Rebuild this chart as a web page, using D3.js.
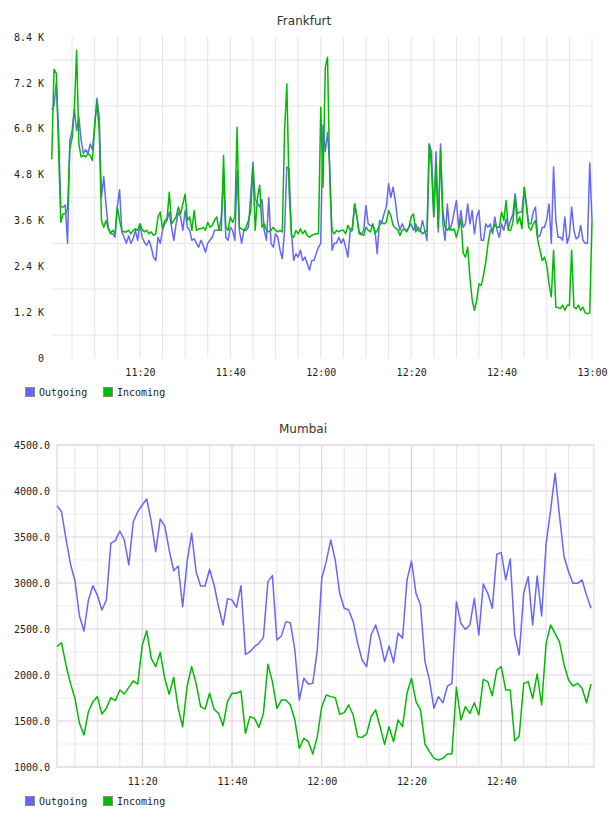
<!DOCTYPE html>
<html>
<head>
<meta charset="utf-8">
<script src="https://cdn.jsdelivr.net/npm/d3@7"></script>
<style>
body { margin: 0; background: #fff; }
svg text { font-family: "DejaVu Sans Mono", monospace; font-size: 10px; fill: #222; }
svg text.title { font-family: "DejaVu Sans", sans-serif; font-size: 12px; fill: #333; }
</style>
</head>
<body>
<svg id="chart" width="608" height="816"></svg>
<script>
// Frankfurt, one sample every 30 s from 11:00:30 (values in thousands)
const frankfurtOutgoingK = [
  6.5, 6.6, 7.2, 5.95, 3.95, 3.95, 4.0, 3.0, 5.7, 5.95, 6.5, 5.95, 6.3, 5.7, 5.35, 5.45, 5.35, 5.6, 5.45, 6.05,
  6.8, 6.3, 4.2, 4.75, 4.0, 3.42, 3.25, 3.25, 3.16, 3.95, 4.4, 3.3, 3.16, 3.0, 3.2, 3.0, 3.12, 3.34, 3.08, 3.51,
  3.16, 3.03, 2.95, 3.08, 2.9, 2.64, 2.55, 3.16, 3.0, 3.34, 3.51, 3.6, 3.82, 3.42, 3.08, 3.51, 3.82, 3.69, 3.34, 3.86,
  3.42, 3.34, 3.08, 3.12, 3.0, 2.9, 3.08, 2.95, 2.77, 3.0, 3.08, 3.16, 3.34, 3.34, 3.34, 3.69, 4.73, 3.16, 3.08, 3.42,
  3.34, 3.08, 4.9, 3.34, 3.0, 3.34, 3.34, 3.42, 4.25, 5.12, 4.15, 4.06, 3.95, 4.15, 3.34, 3.08, 4.2, 3.0, 2.9, 3.25,
  3.16, 2.82, 2.6, 3.34, 5.0, 4.95, 3.34, 2.55, 2.73, 2.64, 2.82, 2.55, 2.64, 2.47, 2.3, 2.55, 2.55, 2.73, 2.9, 3.0,
  6.1, 5.4, 5.9, 5.0, 2.82, 3.0, 3.0, 3.16, 3.0, 3.12, 2.9, 2.64, 3.3, 3.34, 4.03, 3.69, 3.3, 3.25, 3.34, 3.99,
  3.51, 3.47, 3.47, 3.34, 2.73, 3.6, 3.55, 3.77, 3.95, 4.56, 4.2, 4.47, 4.12, 3.6, 3.34, 3.51, 3.38, 3.34, 3.42, 3.51,
  3.34, 3.51, 3.34, 3.3, 3.6, 3.34, 3.08, 5.6, 5.4, 3.7, 5.4, 3.3, 5.6, 3.5, 3.08, 4.03, 3.34, 3.51, 3.82, 4.12,
  3.42, 3.86, 3.42, 3.51, 4.03, 3.51, 3.86, 3.25, 3.69, 3.86, 3.08, 3.08, 3.51, 3.42, 3.51, 3.25, 3.69, 3.34, 3.16, 3.51,
  3.34, 3.64, 3.38, 3.6, 3.77, 4.3, 3.77, 3.82, 3.82, 4.43, 4.03, 3.51, 3.51, 3.82, 3.95, 3.16, 3.2, 3.42, 3.42, 3.64,
  4.03, 3.0, 5.0, 3.6, 3.16, 3.16, 3.08, 3.69, 3.0, 3.2, 3.95, 3.34, 3.12, 3.16, 3.47, 3.08, 3.0, 3.0, 5.1, 3.6
];
const frankfurtIncomingK = [
  5.2, 7.55, 7.45, 5.5, 3.55, 3.77, 3.78, 3.9, 5.5, 5.75, 6.5, 8.05, 5.6, 5.26, 5.3, 5.26, 5.35, 5.3, 5.17, 6.13,
  6.7, 5.95, 3.6, 3.42, 3.6, 3.38, 3.27, 3.34, 3.25, 3.95, 3.6, 3.34, 3.3, 3.3, 3.34, 3.25, 3.34, 3.38, 3.34, 3.51,
  3.36, 3.3, 3.34, 3.25, 3.3, 3.21, 3.25, 3.69, 3.82, 3.38, 3.6, 3.64, 4.34, 3.51, 3.6, 3.69, 3.95, 3.77, 4.03, 4.29,
  3.6, 3.69, 3.34, 3.86, 3.34, 3.38, 3.38, 3.42, 3.34, 3.55, 3.42, 3.47, 3.6, 3.69, 3.34, 3.34, 5.3, 3.42, 3.34, 3.69,
  3.55, 3.69, 6.04, 3.42, 3.38, 3.34, 3.42, 3.6, 3.82, 5.0, 3.34, 4.2, 4.52, 3.42, 3.51, 3.34, 3.3, 3.34, 3.42, 3.34,
  3.3, 3.34, 3.3, 5.95, 7.17, 4.38, 3.21, 3.16, 3.34, 3.25, 3.38, 3.25, 3.34, 3.21, 3.16, 3.21, 3.23, 3.25, 3.25, 6.56,
  4.47, 7.6, 7.87, 4.65, 3.34, 3.25, 3.34, 3.3, 3.34, 3.34, 3.25, 3.47, 3.34, 3.42, 4.03, 3.69, 3.25, 3.23, 3.21, 3.42,
  3.34, 3.3, 3.51, 3.25, 3.34, 3.47, 3.55, 3.51, 3.55, 3.86, 3.73, 3.47, 3.4, 3.36, 3.21, 3.34, 3.38, 3.3, 3.42, 3.69,
  3.77, 3.3, 3.42, 3.34, 3.25, 3.3, 3.34, 5.6, 5.0, 3.7, 5.1, 3.4, 5.45, 3.86, 3.42, 3.34, 3.42, 3.34, 3.38, 3.16,
  3.38, 3.64, 2.75, 2.64, 2.9, 2.1, 1.51, 1.25, 1.51, 1.94, 1.9, 2.16, 2.51, 2.99, 3.34, 3.34, 3.49, 3.42, 3.42, 3.82,
  3.6, 4.12, 3.34, 3.34, 3.55, 4.2, 3.51, 3.69, 3.38, 4.47, 3.95, 3.42, 3.34, 3.51, 3.6, 3.08, 2.82, 2.55, 2.64, 2.42,
  1.94, 1.6, 2.82, 1.33, 1.32, 1.29, 1.38, 1.25, 1.38, 1.38, 2.82, 1.33, 1.29, 1.38, 1.25, 1.33, 1.18, 1.16, 1.18, 3.6
];
const frankfurtYTicks = [0, 1200, 2400, 3600, 4800, 6000, 7200, 8400];

// Mumbai, one sample per minute from 11:01
const mumbaiOutgoing = [
  3841, 3775, 3480, 3207, 3025, 2641, 2478, 2815, 2971, 2866, 2707, 2815, 3431, 3460, 3565, 3467, 3196, 3667, 3775, 3848,
  3913, 3667, 3341, 3696, 3620, 3359, 3134, 3185, 2743, 3232, 3540, 3123, 2967, 2967, 3149, 2978, 2743, 2543, 2830, 2815,
  2736, 2971, 2225, 2254, 2308, 2344, 2409, 3015, 3080, 2380, 2424, 2580, 2569, 2272, 1728, 1964, 1902, 1909, 2272, 3051,
  3232, 3467, 3250, 2888, 2725, 2707, 2580, 2344, 2163, 2091, 2435, 2543, 2380, 2145, 2315, 2134, 2453, 2399, 3033, 3239,
  2888, 2761, 2145, 1946, 1638, 1765, 1699, 1880, 1909, 2797, 2562, 2496, 2543, 2833, 2435, 2989, 2888, 2725, 3312, 3330,
  3033, 3261, 2435, 2217, 2888, 3069, 2543, 3076, 2641, 3431, 3793, 4192, 3721, 3286, 3123, 2996, 2996, 3033, 2870, 2725
];
const mumbaiIncoming = [
  2308, 2351, 2109, 1909, 1746, 1475, 1348, 1601, 1710, 1765, 1576, 1638, 1754, 1721, 1837, 1794, 1866, 1935, 1902, 2326,
  2482, 2181, 2091, 2246, 1964, 1790, 1975, 1638, 1438, 1880, 2091, 1909, 1656, 1630, 1801, 1627, 1583, 1449, 1710, 1801,
  1801, 1826, 1366, 1547, 1529, 1431, 1583, 2116, 1928, 1638, 1728, 1728, 1674, 1511, 1203, 1312, 1275, 1141, 1330, 1656,
  1783, 1765, 1754, 1573, 1591, 1674, 1565, 1330, 1322, 1359, 1547, 1620, 1438, 1246, 1438, 1275, 1511, 1438, 1801, 1964,
  1710, 1620, 1250, 1167, 1094, 1076, 1094, 1141, 1141, 1866, 1511, 1656, 1583, 1699, 1565, 1953, 1928, 1775, 2054, 2091,
  1837, 1837, 1286, 1337, 1909, 1928, 1746, 2011, 1674, 2344, 2543, 2453, 2355, 2109, 1946, 1880, 1909, 1855, 1699, 1902
];
const mumbaiYTicks = [1000, 1500, 2000, 2500, 3000, 3500, 4000, 4500];

const seriesNames = ["Outgoing", "Incoming"];
const seriesColors = ["#6666ff", "#00bb00"];

const at = (h, m, s = 0) => new Date(2015, 0, 1, h, m, s);
const timeLabels = [at(11, 20), at(11, 40), at(12, 0), at(12, 20), at(12, 40), at(13, 0)];

const svg = d3.select("#chart");
const fmtTime = d3.timeFormat("%H:%M");

function drawLegend(top) {
    const lg = svg.append("g").attr("transform", `translate(25, ${top})`);
    seriesNames.forEach((name, i) => {
        const item = lg.append("g").attr("transform", `translate(${i * 78}, 0)`);
        item.append("rect")
            .attr("x", 0.5).attr("y", 0.5)
            .attr("width", 9).attr("height", 9)
            .attr("fill", seriesColors[i])
            .attr("stroke", "#888");
        item.append("text")
            .attr("x", 14).attr("y", 8.5)
            .text(name);
    });
}

function drawSeries(g, x, y, times, values, color) {
    const line = d3.line()
        .x((d, i) => x(times[i]))
        .y(d => y(d));
    g.append("path")
        .datum(values)
        .attr("fill", "none")
        .attr("stroke", color)
        .attr("stroke-width", 1.5)
        .attr("stroke-linejoin", "round")
        .attr("d", line);
}

// ---------- Frankfurt ----------
{
    const left = 51, right = 592, top = 37, bottom = 358;
    const x = d3.scaleTime().domain([at(11, 0, 20), at(13, 0)]).range([left, right]);
    const y = d3.scaleLinear().domain([0, 8400]).range([bottom, top]);
    const g = svg.append("g");

    g.selectAll(".hgrid")
        .data(d3.range(600, 8400, 1200))
        .enter().append("line")
        .attr("x1", left).attr("x2", right)
        .attr("y1", d => y(d)).attr("y2", d => y(d))
        .attr("stroke", "#ececec").attr("stroke-width", 1.2);

    g.selectAll(".vgrid")
        .data(d3.timeMinute.every(5).range(at(11, 5), at(13, 0, 1)))
        .enter().append("line")
        .attr("x1", d => x(d)).attr("x2", d => x(d))
        .attr("y1", top).attr("y2", bottom)
        .attr("stroke", "#e4e4e4").attr("stroke-width", 1);

    const times = frankfurtOutgoingK.map((d, i) => new Date(+at(11, 0, 30) + i * 30000));
    drawSeries(g, x, y, times, frankfurtOutgoingK.map(d => d * 1000), seriesColors[0]);
    drawSeries(g, x, y, times, frankfurtIncomingK.map(d => d * 1000), seriesColors[1]);

    const yAxis = g.append("g")
        .attr("transform", `translate(${left}, 0)`)
        .call(d3.axisLeft(y).tickValues(frankfurtYTicks).tickSize(0).tickPadding(7)
            .tickFormat(d => d === 0 ? "0" : (d / 1000).toFixed(1) + " K"));
    yAxis.select(".domain").remove();
    yAxis.selectAll("text").attr("font-family", null).attr("font-size", null);

    const xAxis = g.append("g")
        .attr("transform", `translate(0, ${bottom})`)
        .call(d3.axisBottom(x).tickValues(timeLabels).tickSize(0).tickPadding(11).tickFormat(fmtTime));
    xAxis.select(".domain").remove();
    xAxis.selectAll("text").attr("font-family", null).attr("font-size", null);

    svg.append("text").attr("class", "title")
        .attr("x", 304).attr("y", 25)
        .attr("text-anchor", "middle")
        .text("Frankfurt");

    drawLegend(387);
}

// ---------- Mumbai ----------
{
    const left = 57, right = 594, top = 445, bottom = 767;
    const x = d3.scaleTime().domain([at(11, 1), at(13, 0, 40)]).range([left, right]);
    const y = d3.scaleLinear().domain([1000, 4500]).range([bottom, top]);
    const g = svg.append("g");

    g.selectAll(".minor")
        .data(d3.range(1250, 4500, 500))
        .enter().append("line")
        .attr("x1", left).attr("x2", right)
        .attr("y1", d => y(d)).attr("y2", d => y(d))
        .attr("stroke", "#f0edf0").attr("stroke-width", 1.2);

    g.selectAll(".major")
        .data(mumbaiYTicks)
        .enter().append("line")
        .attr("x1", left).attr("x2", right)
        .attr("y1", d => y(d)).attr("y2", d => y(d))
        .attr("stroke", "#eddfee").attr("stroke-width", 1.5);

    g.selectAll(".vgrid")
        .data(d3.timeMinute.every(5).range(at(11, 5), at(13, 0)))
        .enter().append("line")
        .attr("x1", d => x(d)).attr("x2", d => x(d))
        .attr("y1", top).attr("y2", bottom)
        .attr("stroke", d => d.getMinutes() % 20 === 0 ? "#d9c6dd" : "#e8e0ea")
        .attr("stroke-width", 1);

    g.append("rect")
        .attr("x", left).attr("y", top)
        .attr("width", right - left).attr("height", bottom - top)
        .attr("fill", "none")
        .attr("stroke", "#eadaec").attr("stroke-width", 1.5);

    const times = mumbaiOutgoing.map((d, i) => new Date(+at(11, 1) + i * 60000));
    drawSeries(g, x, y, times, mumbaiOutgoing, seriesColors[0]);
    drawSeries(g, x, y, times, mumbaiIncoming, seriesColors[1]);

    const yAxis = g.append("g")
        .attr("transform", `translate(${left}, 0)`)
        .call(d3.axisLeft(y).tickValues(mumbaiYTicks).tickSize(0).tickPadding(7)
            .tickFormat(d => d.toFixed(1)));
    yAxis.select(".domain").remove();
    yAxis.selectAll("text").attr("font-family", null).attr("font-size", null);

    const xAxis = g.append("g")
        .attr("transform", `translate(0, ${bottom})`)
        .call(d3.axisBottom(x).tickValues(timeLabels.slice(0, 5)).tickSize(0).tickPadding(11).tickFormat(fmtTime));
    xAxis.select(".domain").remove();
    xAxis.selectAll("text").attr("font-family", null).attr("font-size", null);

    svg.append("text").attr("class", "title")
        .attr("x", 303).attr("y", 433)
        .attr("text-anchor", "middle")
        .text("Mumbai");

    drawLegend(796);
}
</script>
</body>
</html>
